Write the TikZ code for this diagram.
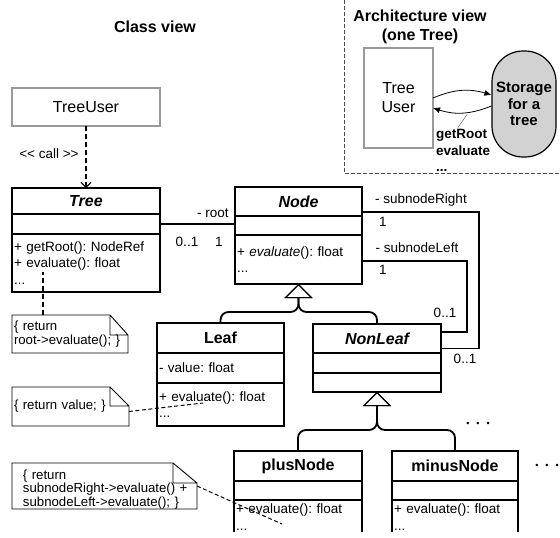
\documentclass[tikz,border=0pt]{standalone}
\usepackage{fontspec}
\setmainfont{Liberation Sans}
\usetikzlibrary{arrows.meta, positioning}
\frenchspacing
\newcommand\memfont{\fontsize{13.5}{16.5}\selectfont}
\newcommand\notefont{\fontsize{13.2}{14.5}\selectfont}
\newcommand\clsfont{\fontsize{16}{18}\selectfont\bfseries}
\newcommand\hdfont{\fontsize{16}{19}\selectfont}

\begin{document}
\begin{tikzpicture}[x=1pt,y=-1pt,font=\memfont,>={Latex[length=7pt,width=6pt]},
  cname/.style={draw,line width=1.1pt,outer sep=0pt,inner sep=0pt,align=center,font=\clsfont},
  cpart/.style={draw,line width=1.1pt,outer sep=0pt,inner xsep=2pt,inner ysep=0pt,align=left},
  lbl/.style={inner sep=0pt},
  assoc/.style={line width=1.8pt},
  gen/.style={line width=1.8pt,rounded corners=8pt,-{Triangle[open,length=14pt,width=28pt,line width=1pt]}},
  calldash/.style={line width=1.6pt,dash pattern=on 5pt off 3pt},
  notebox/.style={anchor=north west,inner ysep=0pt,outer sep=0pt,align=left,font=\notefont},
  notelink/.style={line width=1pt,dash pattern=on 4pt off 2.5pt},
  userbox/.style={draw=black!40,line width=1.2pt,outer sep=0pt}]
\useasboundingbox (0,0) rectangle (560,538); \clip (0,0) rectangle (560,531);
\node[font=\hdfont\bfseries] (classtitle) at (155,27) {Class view};
\node[userbox,minimum width=148pt,minimum height=38pt,anchor=north west,font=\hdfont] (user) at (12,88) {TreeUser};
\node[lbl] (calllbl) at (49,154) {<\kern0pt< call >\kern0pt>};
% classes
\node[cname,text width=148pt,minimum height=26pt,anchor=north west] (treeN) at (12,188) {\itshape Tree};
\node[cpart,text width=144pt,minimum height=20pt,below=0pt of treeN] (treeA) {};
\node[cpart,text width=144pt,minimum height=58pt,below=0pt of treeA] (treeO) {+ getRoot(): NodeRef\\+ evaluate(): float\\...};
\node[cname,text width=127pt,minimum height=29pt,anchor=north west] (nodeN) at (235,187) {\itshape Node};
\node[cpart,text width=123pt,minimum height=19pt,below=0pt of nodeN] (nodeA) {};
\node[cpart,text width=123pt,minimum height=49pt,below=0pt of nodeA] (nodeO) {+ \textit{evaluate}(): float\\...};
\node[cname,text width=127pt,minimum height=30pt,anchor=north west] (leafN) at (157,323) {Leaf};
\node[cpart,text width=123pt,minimum height=30pt,below=0pt of leafN] (leafA) {- value: float};
\node[cpart,text width=123pt,minimum height=43pt,below=0pt of leafA] (leafO) {+ evaluate(): float\\...};
\node[cname,text width=128pt,minimum height=29pt,anchor=north west] (nonleafN) at (313,324) {\itshape NonLeaf};
\node[cpart,text width=124pt,minimum height=20pt,below=0pt of nonleafN] (nonleafA) {};
\node[cpart,text width=124pt,minimum height=19pt,below=0pt of nonleafA] (nonleafO) {};
\node[cname,text width=128pt,minimum height=30pt,anchor=north west] (plusN) at (234,451) {plusNode};
\node[cpart,text width=124pt,minimum height=19pt,below=0pt of plusN] (plusA) {};
\node[cpart,text width=124pt,minimum height=34pt,below=0pt of plusA] (plusO) {+ evaluate(): float\\...};
\node[cname,text width=126pt,minimum height=30pt,anchor=north west] (minusN) at (392,451) {minusNode};
\node[cpart,text width=122pt,minimum height=19pt,below=0pt of minusN] (minusA) {};
\node[cpart,text width=122pt,minimum height=34pt,below=0pt of minusA] (minusO) {+ evaluate(): float\\...};
\node (more1) at (478,424) {\fontsize{9}{9}\selectfont •\hspace{7pt}•\hspace{7pt}•};
\node (more2) at (547,466) {\fontsize{9}{9}\selectfont •\hspace{7pt}•\hspace{7pt}•};
% links
\draw[calldash,-{Straight Barb[length=5pt,width=10pt,line width=1pt]}] (user.south) -- (treeN.north);
\draw[assoc] (treeA.east) -- (treeA.east -| nodeA.west);
\node[lbl] (rootlbl) at (213,213) {- root}; \node[lbl] (rootm1) at (187,242) {0..1}; \node[lbl] (rootm2) at (219,242) {1};
\draw[assoc] ([yshift=-10.5pt]nodeN.east) -- ++(117,0) |- ([yshift=-10pt]nonleafN.east);
\draw[assoc] ([yshift=-1.5pt]nodeO.east) -- ++(105,0) |- ([yshift=6.5pt]nonleafN.east);
\node[lbl] (rightlbl) at (421,200) {- subnodeRight}; \node[lbl] (rightm1) at (383,222) {1}; \node[lbl] (rightm2) at (465,359) {0..1};
\node[lbl] (leftlbl) at (417,248) {- subnodeLeft}; \node[lbl] (leftm1) at (383,270) {1}; \node[lbl] (leftm2) at (445,313) {0..1};
\draw[gen] (leafN.north) |- ([yshift=-28pt]nodeO.south) -- (nodeO.south);
\draw[gen] (nonleafN.north) |- ([yshift=-28pt]nodeO.south) -- (nodeO.south);
\draw[gen] (plusN.north) |- ([yshift=-38pt]nonleafO.south) -- (nonleafO.south);
\draw[gen] (minusN.north) |- ([yshift=-38pt]nonleafO.south) -- (nonleafO.south);
% notes
\node[notebox,text width=112pt,minimum height=38pt,inner xsep=2pt] (note1) at (12,315) {\{ return\\root->evaluate(); \}};
\node[notebox,text width=113pt,minimum height=39pt,inner xsep=2pt] (note2) at (12,387) {\{ return value; \}};
\node[notebox,text width=185pt,inner xsep=0pt,font=\fontsize{13.2}{13.5}\selectfont] (note3) at (12,463) {\hspace*{11pt}\rule{0pt}{16pt}\{ return\\\hspace*{11pt}subnodeRight->evaluate() +\\\hspace*{11pt}subnodeLeft->evaluate(); \}\rule[-3pt]{0pt}{3pt}};
\foreach \n/\fx/\fy in {note1/18/20,note2/19/19,note3/24/20}
  \draw[line width=.9pt] (\n.north west) -- ([xshift=-\fx pt]\n.north east) -- ([yshift=-\fy pt]\n.north east) -- (\n.south east) -- (\n.south west) -- cycle ([xshift=-\fx pt]\n.north east) |- ([yshift=-\fy pt]\n.north east);
\draw[calldash] ([xshift=31pt]note1.north west) -- ([xshift=31pt,yshift=20pt]treeO.south west);
\draw[notelink] ([yshift=-5pt]note2.east) -- ([xshift=46pt,yshift=1.5pt]leafO.west);
\draw[notelink] (note3.east) -- ([xshift=48pt,yshift=-7pt]plusO.west);
% architecture view
\draw[black!70,line width=1pt,dash pattern=on 4pt off 2pt] (344,0) |- (560,173);
\node[font=\hdfont\bfseries,align=center] (archtitle) at (420,26.5) {Architecture view\\(one Tree)};
\node[userbox,minimum width=69pt,minimum height=100pt,align=center,font=\hdfont] (tu) at (398.5,98) {Tree\\User};
\node[draw,line width=1.2pt,fill=gray!35,rounded corners=31pt,minimum width=64pt,minimum height=106pt,align=center,font=\fontsize{15}{16.5}\selectfont\bfseries] (st) at (524,104) {Storage\\for a\\tree};
\draw[->,line width=.8pt] (tu.east) to[bend left=20] ([yshift=9pt]st.west);
\draw[->,line width=.8pt] ([yshift=-2pt]st.west) to[bend left=20] ([yshift=-10pt]tu.east);
\node[anchor=north west,inner sep=0pt,align=left,font=\fontsize{13.5}{16.5}\selectfont\bfseries] (ops) at (436,129.5) {getRoot\\evaluate\\...};
\draw[black!60,line width=.5pt] ([xshift=22pt,yshift=2pt]ops.north west) -- ++(9,-13);
\end{tikzpicture}
\end{document}
